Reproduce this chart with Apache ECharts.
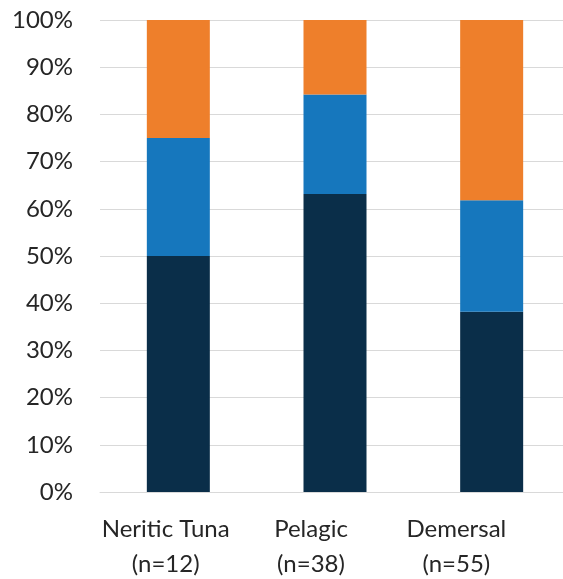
<!DOCTYPE html>
<html>
<head>
<meta charset="utf-8">
<script src="https://cdn.jsdelivr.net/npm/echarts@6/dist/echarts.min.js"></script>
<style>
  html, body { margin: 0; padding: 0; background: #ffffff; overflow: hidden; }
  #chart { width: 563px; height: 579px; }
</style>
</head>
<body>
<div id="chart"></div>
<script>
// Species groups and sample sizes
const categories = ['Neritic Tuna\n(n=12)', 'Pelagic\n(n=38)', 'Demersal\n(n=55)'];
const totals = [12, 38, 55];

// Counts per response class within each group
const bottomCounts = [6, 24, 21];
const middleCounts = [3, 8, 13];
const topCounts = [3, 6, 21];

const yTicks = [0, 10, 20, 30, 40, 50, 60, 70, 80, 90, 100];

const pct = (arr) => arr.map((v, i) => (v / totals[i]) * 100);

const chart = echarts.init(document.getElementById('chart'), null, { renderer: 'canvas' });

const fontFamily = 'Lato, "Noto Sans", sans-serif';
const textColor = '#262626';

chart.setOption({
  animation: false,
  grid: [
    // main plot area, running slightly past the right edge of the canvas
    { left: 100, top: 20, width: 470, height: 472, containLabel: false, outerBoundsMode: 'none' },
    // narrower band that only carries the category labels
    { left: 93, top: 20, width: 436, height: 472, containLabel: false, outerBoundsMode: 'none' }
  ],
  xAxis: [
    {
      type: 'category',
      gridIndex: 0,
      data: categories,
      axisLine: { show: true, lineStyle: { color: '#d9d9d9', width: 1 } },
      axisTick: { show: false },
      axisLabel: { show: false }
    },
    {
      type: 'category',
      gridIndex: 1,
      data: categories,
      axisLine: { show: false },
      axisTick: { show: false },
      splitLine: { show: false },
      axisLabel: {
        interval: 0,
        color: textColor,
        fontSize: 24,
        fontFamily: fontFamily,
        lineHeight: 35,
        margin: 20
      }
    }
  ],
  yAxis: [
    {
      type: 'value',
      gridIndex: 0,
      min: yTicks[0],
      max: yTicks[yTicks.length - 1],
      interval: 10,
      axisLine: { show: false },
      axisTick: { show: false },
      splitLine: { show: true, lineStyle: { color: '#d9d9d9', width: 1 } },
      axisLabel: {
        color: textColor,
        fontSize: 24,
        fontFamily: fontFamily,
        margin: 27,
        formatter: (v) => v + '%'
      }
    },
    {
      type: 'value',
      gridIndex: 1,
      min: yTicks[0],
      max: yTicks[yTicks.length - 1],
      show: false
    }
  ],
  series: [
    {
      type: 'bar', stack: 'total', data: pct(bottomCounts),
      barWidth: 63,
      itemStyle: { color: '#0a2e49' }
    },
    {
      type: 'bar', stack: 'total', data: pct(middleCounts),
      barWidth: 63,
      itemStyle: { color: '#1677bd' }
    },
    {
      type: 'bar', stack: 'total', data: pct(topCounts),
      barWidth: 63,
      itemStyle: { color: '#ee7f2b' }
    }
  ]
});
</script>
</body>
</html>
